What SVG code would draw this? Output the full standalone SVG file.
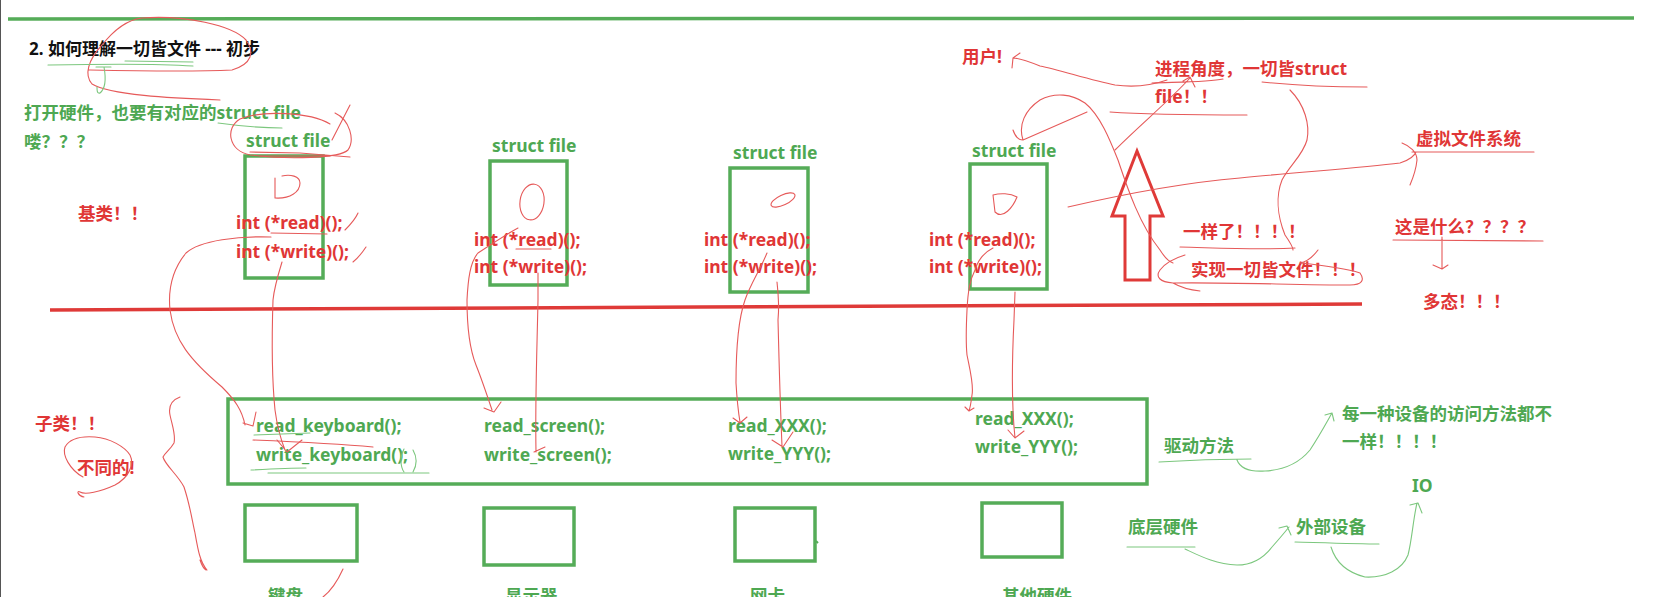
<svg xmlns="http://www.w3.org/2000/svg" width="1665" height="597" viewBox="0 0 1665 597">
<style>
text{font-family:"Noto Sans","Noto Sans CJK SC",sans-serif;font-weight:bold;font-size:17.5px}
.k{fill:#111}
.g{fill:#4ea852}
.r{fill:#e03636}
.box{fill:none;stroke:#55ac58;stroke-width:3.5}
.thickr{fill:none;stroke:#df3a38;stroke-width:3.5}
.hr{fill:none;stroke:#e65a5a;stroke-width:1.1;stroke-linecap:round;stroke-linejoin:round}
.hg{fill:none;stroke:#7cc77e;stroke-width:1.1;stroke-linecap:round;stroke-linejoin:round}
</style>
<rect width="1665" height="597" fill="#fff"/>
<line x1="0.5" y1="0" x2="0.5" y2="597" stroke="#555" stroke-width="1"/>
<path d="M8,19 L1634,18" stroke="#55ac58" stroke-width="3.5" fill="none"/>
<path class="thickr" d="M50,310 L700,307 L1362,304"/>

<g id="title"><text class="k" x="29" y="55" style="font-size:17px">2. 如何理解一切皆文件 --- 初步</text></g>
<g id="note-open"><text class="g" x="24" y="119">打开硬件，也要有对应的struct file</text><text class="g" x="24" y="148">喽？？？</text></g>
<g id="base-label"><text class="r" x="78" y="220">基类！！</text></g>
<g id="sub-label"><text class="r" x="35" y="430">子类！！</text><text class="r" x="77" y="474">不同的!</text></g>

<g id="sf1"><text class="g" x="246" y="147">struct file</text><rect class="box" x="245" y="156" width="78" height="122"/><text class="r" x="236" y="229">int (*read)();</text><text class="r" x="236" y="258">int (*write)();</text></g>
<g id="sf2"><text class="g" x="492" y="152">struct file</text><rect class="box" x="490" y="161" width="77" height="124"/><text class="r" x="474" y="246">int (*read)();</text><text class="r" x="474" y="273">int (*write)();</text></g>
<g id="sf3"><text class="g" x="733" y="159">struct file</text><rect class="box" x="730" y="168" width="78" height="124"/><text class="r" x="704" y="246">int (*read)();</text><text class="r" x="704" y="273">int (*write)();</text></g>
<g id="sf4"><text class="g" x="972" y="157">struct file</text><rect class="box" x="970" y="164" width="77" height="125"/><text class="r" x="929" y="246">int (*read)();</text><text class="r" x="929" y="273">int (*write)();</text></g>

<g id="drivers"><rect class="box" x="228" y="399" width="919" height="85"/>
<text class="g" x="256" y="432">read_keyboard();</text><text class="g" x="256" y="461">write_keyboard();</text>
<text class="g" x="484" y="432">read_screen();</text><text class="g" x="484" y="461">write_screen();</text>
<text class="g" x="728" y="432">read_XXX();</text><text class="g" x="728" y="460">write_YYY();</text>
<text class="g" x="975" y="425">read_XXX();</text><text class="g" x="975" y="453">write_YYY();</text></g>

<g id="hw-keyboard"><rect class="box" x="245" y="505" width="112" height="56"/><text class="g" x="268" y="602">键盘</text></g>
<g id="hw-screen"><rect class="box" x="484" y="508" width="90" height="57"/><text class="g" x="505" y="602">显示器</text></g>
<g id="hw-nic"><rect class="box" x="735" y="508" width="80" height="53"/><path d="M816,541 L818,543" stroke="#55ac58" stroke-width="2"/><text class="g" x="750" y="602">网卡</text></g>
<g id="hw-other"><rect class="box" x="982" y="503" width="80" height="54"/><text class="g" x="1002" y="602">其他硬件</text></g>

<g id="up-arrow"><polygon points="1137,151 1163,216 1150,216 1150,280 1125,280 1125,216 1112,216" fill="none" stroke="#df3a38" stroke-width="3" stroke-linejoin="miter"/></g>

<g id="labels-right">
<text class="r" x="962" y="63">用户!</text>
<text class="r" x="1155" y="75">进程角度，一切皆struct</text>
<text class="r" x="1155" y="103">file！！</text>
<text class="r" x="1416" y="145">虚拟文件系统</text>
<text class="r" x="1183" y="238">一样了！！！！</text>
<text class="r" x="1191" y="276">实现一切皆文件！！！</text>
<text class="r" x="1395" y="233">这是什么？？？？</text>
<text class="r" x="1423" y="308">多态！！！</text>
<text class="g" x="1164" y="452">驱动方法</text>
<text class="g" x="1342" y="420">每一种设备的访问方法都不</text>
<text class="g" x="1342" y="448">一样！！！！</text>
<text class="g" x="1412" y="492">IO</text>
<text class="g" x="1128" y="533">底层硬件</text>
<text class="g" x="1296" y="533">外部设备</text>
</g>

<g id="connectors">
<path class="hr" d="M220,100 C170,98 110,95 92,84 C84,75 88,60 102,45 C114,30 126,20 142,18 C185,15 232,25 246,40 C255,52 252,64 232,70 C190,72 140,71 88,70"/>
<path class="hg" d="M48,65 C100,64 150,63 193,66 M125,61 L193,62"/>
<path class="hg" d="M96,67 L111,67 M104,67 C106,78 106,88 100,93 C97,94 97,90 97,87"/>
<path class="hg" d="M218,123 C240,126 260,128 282,128"/>
<path class="hr" d="M330,124 C310,112 262,110 240,119 C225,128 228,150 250,155 C290,160 340,158 348,150 C355,140 350,120 335,113"/>
<path class="hr" d="M350,105 L332,140 M250,152 L300,153 M260,156 L330,156 M300,153 L350,157"/>
<path class="hr" d="M275,178 L275,198 C290,199 300,192 300,183 C300,176 290,174 282,176"/>
<path class="hr" d="M271,233 L327,234 M345,230 C350,225 355,220 358,213 M353,262 C358,258 362,253 366,247"/>
<ellipse class="hr" cx="532" cy="202" rx="12" ry="18" transform="rotate(8 532 202)"/>
<path class="hr" d="M516,249 L551,249"/>
<ellipse class="hr" cx="783" cy="200" rx="13" ry="5" transform="rotate(-25 783 200)"/>
<path class="hr" d="M993,195 L995,212 C1003,220 1013,207 1017,197 C1010,193 1000,193 993,195"/>
<path class="hr" d="M271,237 C240,236 200,240 186,253 C172,270 168,290 170,310 C174,340 190,360 222,387 C235,400 242,410 245,425 M243,423 L253,426 L256,412"/>
<path class="hr" d="M282,262 C278,275 274,290 273,300 C272,330 272,380 275,410 C277,425 279,435 285,450 M277,440 L287,452 L302,440"/>
<path class="hr" d="M518,228 C505,235 490,245 478,253 C470,262 468,280 467,300 C467,330 470,350 476,365 C482,380 486,392 492,410 M484,408 L494,412 L501,402"/>
<path class="hr" d="M538,273 L538,300 C537,350 535,400 536,452 M534,452 L545,447"/>
<path class="hr" d="M767,253 C760,270 750,285 745,300 C738,320 736,350 736,383 C737,400 738,410 740,422 M733,418 L740,423 L747,417"/>
<path class="hr" d="M777,282 C779,300 779,310 778,320 C779,360 780,400 782,446 M772,440 L783,447 L793,432"/>
<path class="hr" d="M993,248 C985,252 978,260 975,270 C970,280 968,290 967,310 C966,330 966,345 967,355 C970,370 974,385 972,395 C971,403 970,408 969,411 M965,407 L969,411 L974,408"/>
<path class="hr" d="M1015,292 L1014,320 C1012,360 1011,400 1015,438 M1008,430 L1015,438 L1024,431"/>
<path class="hg" d="M254,435 L310,433 M251,470 C270,469 290,468 306,468 M268,473 L429,473"/>
<path class="hg" d="M404,449 C400,456 400,466 404,472 M413,450 C417,457 417,465 413,472"/>
<path class="hr" d="M253,440 C300,442 340,444 373,447"/>
<path class="hr" d="M180,397 C172,400 168,405 170,415 C172,425 176,435 174,443 C170,450 165,453 163,457 C165,465 178,475 184,487 C190,505 192,520 195,533 C198,550 200,562 207,570 M200,560 C202,566 204,569 206,570"/>
<path class="hr" d="M83,477 C70,470 62,455 65,447 C70,438 82,436 95,437 C110,438 125,447 130,455 C135,465 128,478 115,485 C100,492 85,495 80,492 C76,490 78,496 84,497"/>
<path class="hr" d="M343,569 C338,580 332,590 323,597"/>
<path class="hr" d="M1167,80 C1150,86 1130,87 1115,85 C1090,80 1060,70 1040,66 C1030,62 1020,58 1013,58 M1012,68 L1013,58 L1020,53"/>
<path class="hr" d="M1152,83 C1180,82 1210,82 1223,79 M1183,81 L1190,77 L1195,87 M1190,78 C1170,100 1140,125 1115,150"/>
<path class="hr" d="M1262,82 C1290,85 1330,87 1367,87 M1110,112 C1150,115 1200,115 1247,115"/>
<path class="hr" d="M1290,90 C1305,105 1310,125 1307,140 C1303,155 1290,165 1282,180 C1276,195 1277,215 1285,235 C1292,245 1293,248 1293,250"/>
<path class="hr" d="M1013,130 C1015,136 1019,140 1023,140 C1018,125 1025,110 1040,100 C1055,92 1072,94 1085,103 C1100,115 1110,140 1118,160 C1128,190 1140,225 1160,250 C1165,258 1170,262 1173,263 M1023,140 L1087,112"/>
<path class="hr" d="M1068,207 C1120,195 1180,183 1240,178 C1300,172 1360,168 1400,163 C1410,160 1415,155 1416,152 M1402,143 C1410,146 1417,152 1417,160 C1416,170 1413,178 1410,185 M1412,152 L1534,152"/>
<path class="hr" d="M1180,247 C1220,248 1260,250 1295,248"/>
<path class="hr" d="M1318,250 C1312,258 1306,262 1300,263 C1320,265 1345,268 1360,273 C1365,280 1362,285 1350,285 C1300,285 1220,282 1173,283 C1160,282 1155,277 1160,270 C1166,262 1175,258 1185,255 M1173,283 C1180,287 1190,290 1200,291"/>
<path class="hr" d="M1393,240 L1543,241 M1442,237 L1442,268 M1433,265 L1442,269 L1448,265"/>
<path class="hg" d="M1159,462 C1190,460 1220,459 1251,459 M1237,460 C1240,468 1250,472 1265,471 C1285,470 1300,462 1310,450 C1320,435 1328,420 1332,413 M1325,415 L1332,413 L1334,421"/>
<path class="hg" d="M1127,547 L1195,547 M1185,549 C1200,556 1215,564 1237,565 C1255,565 1265,556 1272,547 C1280,538 1285,532 1289,527 M1279,528 L1287,526 L1291,535"/>
<path class="hg" d="M1295,542 C1330,543 1360,544 1379,544 M1331,547 C1335,560 1345,572 1365,577 C1385,578 1402,570 1408,555 C1412,540 1413,520 1417,503 M1410,505 L1418,503 L1422,513"/>
</g>
</svg>
